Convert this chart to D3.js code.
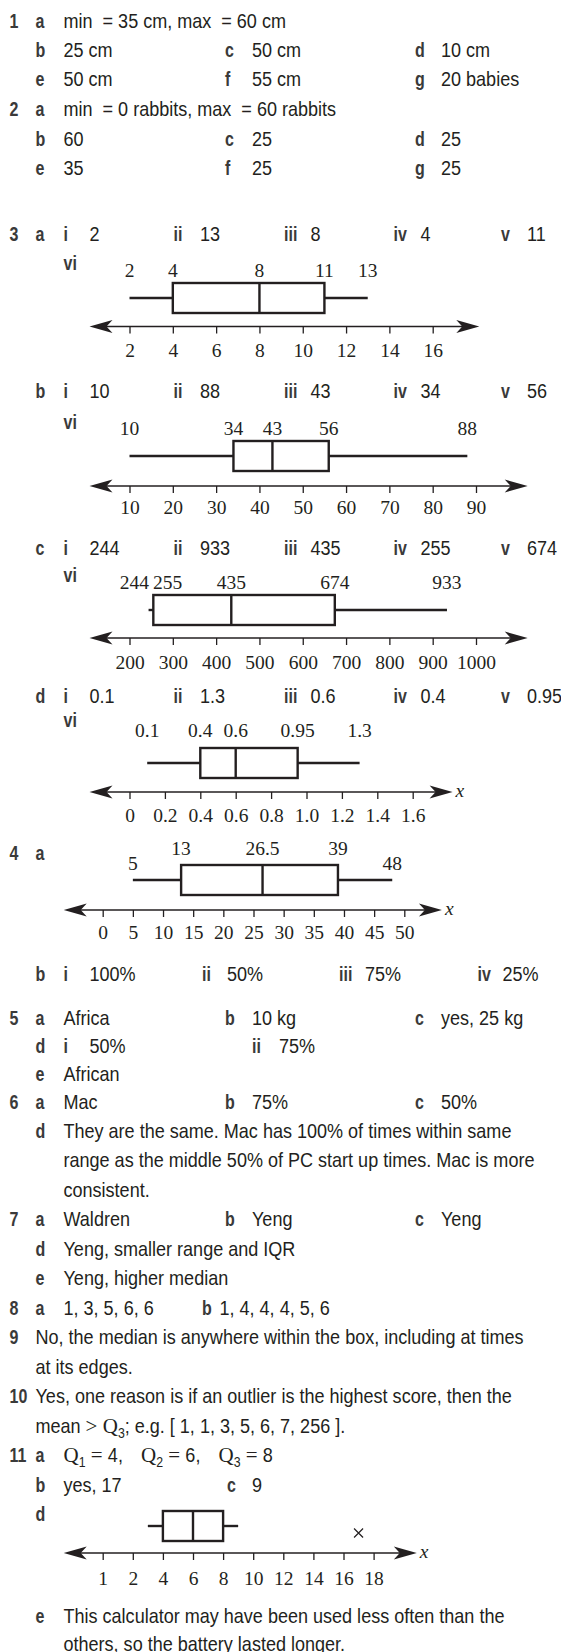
<!DOCTYPE html>
<meta charset="utf-8">
<script src="https://cdn.jsdelivr.net/npm/d3@7/dist/d3.min.js"></script>
<style>
body { margin: 0; background: #fff; }
svg text { fill: #231f20; white-space: pre; }
.t { font-family: "Liberation Sans", Arial, sans-serif; font-size: 20.5px; }
.lb { font-weight: bold; fill: #3a3a3a; font-size: 20px; }
.sf { font-family: "Liberation Serif", "Times New Roman", serif; font-size: 19.5px; }
.bx { stroke: #231f20; stroke-width: 2.4; fill: none; }
</style>
<body>
<script>

// answer text
var romans = ["i", "ii", "iii", "iv", "v", "vi"];
var q1Answers = ["min  = 35 cm, max  = 60 cm", "25 cm", "50 cm", "10 cm", "50 cm", "55 cm", "20 babies"];
var q2Answers = ["min  = 0 rabbits, max  = 60 rabbits", "60", "25", "25", "35", "25", "25"];
var q4bAnswers = ["100%", "50%", "75%", "25%"];
var q5Answers = ["Africa", "10 kg", "yes, 25 kg"];
var q5dAnswers = ["50%", "75%"];
var q5eAnswer = "African";
var q6Answers = ["Mac", "75%", "50%"];
var q6dLines = ["They are the same. Mac has 100% of times within same",
                "range as the middle 50% of PC start up times. Mac is more",
                "consistent."];
var q7Answers = ["Waldren", "Yeng", "Yeng"];
var q7dAnswer = "Yeng, smaller range and IQR";
var q7eAnswer = "Yeng, higher median";
var q8Answers = ["1, 3, 5, 6, 6", "1, 4, 4, 4, 5, 6"];
var q9Lines = ["No, the median is anywhere within the box, including at times", "at its edges."];
var q10Line = "Yes, one reason is if an outlier is the highest score, then the";
var q10Example = "[ 1, 1, 3, 5, 6, 7, 256 ].";
var q11Quartiles = [4, 6, 8];
var q11Answers = ["yes, 17", "9"];
var q11eLines = ["This calculator may have been used less often than the",
                 "others, so the battery lasted longer."];

// five number summaries: min, Q1, median, Q3, max
var summary3a = [2, 4, 8, 11, 13];
var summary3b = [10, 34, 43, 56, 88];
var summary3c = [244, 255, 435, 674, 933];
var summary3d = [0.1, 0.4, 0.6, 0.95, 1.3];
var summary4a = [5, 13, 26.5, 39, 48];
var summary11d = [3, 4, 6, 8, 9];
var outliers11d = [17];

// axis ticks
var ticks3a = [2, 4, 6, 8, 10, 12, 14, 16];
var ticks3b = [10, 20, 30, 40, 50, 60, 70, 80, 90];
var ticks3c = [200, 300, 400, 500, 600, 700, 800, 900, 1000];
var ticks3d = [0, 0.2, 0.4, 0.6, 0.8, 1.0, 1.2, 1.4, 1.6];
var tickLabels3d = ["0", "0.2", "0.4", "0.6", "0.8", "1.0", "1.2", "1.4", "1.6"];
var ticks4a = [0, 5, 10, 15, 20, 25, 30, 35, 40, 45, 50];
var ticks11d = [0, 2, 4, 6, 8, 10, 12, 14, 16, 18];
var tickLabels11d = ["1", "2", "4", "6", "8", "10", "12", "14", "16", "18"];

var ink = "#231f20";
var svg = d3.select("body").append("svg")
    .attr("width", 561)
    .attr("height", 1652);

// the printed font is a condensed grotesque: squeeze Liberation Sans
var SX = 0.88, SXB = 0.8;

// column positions
var NUM = 9.5, PART = 35.5;
var cols3 = [[35.5, 63.5], [225, 252], [415, 441]];
var cols4 = [[63.5, 89.5], [202, 227], [339, 365], [477.5, 502.5]];
var cols5 = [[63.5, 89.5], [173.5, 200], [284, 310.5], [393.5, 420.5], [501, 527]];

function scaleFor(cls) {
  if (cls.indexOf("lb") >= 0) return SXB;
  if (cls.indexOf("sf") >= 0) return 1;
  return SX;
}
function txt(x, y, s, cls) {
  cls = cls || "t";
  return svg.append("text")
    .attr("class", cls)
    .attr("transform", "translate(" + x + "," + y + ") scale(" + scaleFor(cls) + ",1)")
    .text(s);
}
function lab(x, y, s) { return txt(x, y, s, "t lb"); }

// a run of differently styled pieces on one line
function seq(x, y, parts) {
  parts.forEach(function(p) {
    var cls = p.cls || "t";
    var t = txt(x, y + (p.dy || 0), p.s, cls);
    if (p.size) t.style("font-size", p.size + "px");
    x += t.node().getComputedTextLength() * scaleFor(cls);
  });
  return x;
}

// one line of lettered answers
function row(y, items, cols) {
  items.forEach(function(it, i) {
    lab(cols[i][0], y, it[0]);
    txt(cols[i][1], y, it[1]);
  });
}

// ---- questions 1 and 2 ----
lab(NUM, 27.5, "1");
row(27.5, [["a", q1Answers[0]]], cols3);
row(56.5, [["b", q1Answers[1]], ["c", q1Answers[2]], ["d", q1Answers[3]]], cols3);
row(85.5, [["e", q1Answers[4]], ["f", q1Answers[5]], ["g", q1Answers[6]]], cols3);
lab(NUM, 115.5, "2");
row(115.5, [["a", q2Answers[0]]], cols3);
row(145.5, [["b", q2Answers[1]], ["c", q2Answers[2]], ["d", q2Answers[3]]], cols3);
row(174.5, [["e", q2Answers[4]], ["f", q2Answers[5]], ["g", q2Answers[6]]], cols3);

// ---- box plots ----
function arrowHead(g, x, y, dir) {
  // dir = 1 points right, -1 points left
  var L = 23, H = 6.5, B = 17;
  g.append("path")
    .attr("d", "M" + x + "," + y +
               "L" + (x - dir * L) + "," + (y - H) +
               "L" + (x - dir * B) + "," + y +
               "L" + (x - dir * L) + "," + (y + H) + "Z")
    .attr("fill", ink);
}

function boxPlot(cfg) {
  var x = d3.scaleLinear().domain(cfg.domain).range(cfg.range);
  var s = cfg.summary, h = 30, top = cfg.top, mid = top + h / 2;
  var g = svg.append("g");

  // axis with arrows
  g.append("line")
    .attr("x1", cfg.ends[0] + 10).attr("x2", cfg.ends[1] - 10)
    .attr("y1", cfg.axisY).attr("y2", cfg.axisY)
    .attr("stroke", ink).attr("stroke-width", 1.4);
  arrowHead(g, cfg.ends[0], cfg.axisY, -1);
  arrowHead(g, cfg.ends[1], cfg.axisY, 1);
  if (cfg.xName) {
    g.append("text").attr("class", "sf")
      .attr("x", cfg.ends[1] + 3).attr("y", cfg.axisY + 5)
      .style("font-style", "italic")
      .text("x");
  }

  var axis = d3.axisBottom(x)
    .tickValues(cfg.ticks)
    .tickSize(7)
    .tickFormat(function(d, i) { return cfg.tickLabels ? cfg.tickLabels[i] : String(d); });
  var ag = g.append("g")
    .attr("transform", "translate(0," + cfg.axisY + ")")
    .call(axis);
  ag.attr("font-family", null).attr("font-size", null).style("color", ink);
  ag.select(".domain").remove();
  ag.selectAll(".tick line").attr("stroke-width", 1.3);
  ag.selectAll(".tick text")
    .attr("class", "sf")
    .attr("dy", null)
    .attr("y", cfg.tickY - cfg.axisY);

  // whiskers, box, median
  g.append("line").attr("class", "bx")
    .attr("x1", x(s[0])).attr("x2", x(s[1])).attr("y1", mid).attr("y2", mid);
  g.append("line").attr("class", "bx")
    .attr("x1", x(s[3])).attr("x2", x(s[4])).attr("y1", mid).attr("y2", mid);
  g.append("rect").attr("class", "bx")
    .attr("x", x(s[1])).attr("y", top)
    .attr("width", x(s[3]) - x(s[1])).attr("height", h)
    .attr("fill", "#fff");
  g.append("line").attr("class", "bx")
    .attr("x1", x(s[2])).attr("x2", x(s[2])).attr("y1", top).attr("y2", top + h);

  // outliers
  (cfg.outliers || []).forEach(function(v) {
    var cx = x(v), cy = cfg.outlierY, r = 4.5;
    g.append("path")
      .attr("d", "M" + (cx - r) + "," + (cy - r) + "L" + (cx + r) + "," + (cy + r) +
                 "M" + (cx - r) + "," + (cy + r) + "L" + (cx + r) + "," + (cy - r))
      .attr("stroke", ink).attr("stroke-width", 1.2);
  });

  // value labels above the plot
  if (cfg.valueY) {
    var labs = s.map(function(v, i) {
      var y = cfg.valueY;
      if (cfg.stepped && (i === 0 || i === 4)) y = cfg.valueY + 15;
      var t = g.append("text").attr("class", "sf")
        .attr("text-anchor", "middle")
        .attr("y", y)
        .text(String(v));
      return {t: t, cx: x(v), w: t.node().getComputedTextLength(), y: y};
    });
    // push apart labels that would overlap
    for (var i = 1; i < labs.length; i++) {
      var a = labs[i - 1], b = labs[i];
      if (a.y !== b.y) continue;
      var need = (a.w + b.w) / 2 + 4;
      var gap = b.cx - a.cx;
      if (gap < need) {
        var d = (need - gap) / 2;
        a.cx -= d;
        b.cx += d;
      }
    }
    labs.forEach(function(l) { l.t.attr("x", l.cx); });
  }
}

// question 3 headers and plots
var q3 = [
  {part: "a", y: 240.5, summary: summary3a, ticks: ticks3a, domain: [2, 16], range: [129.5, 432.7],
   ends: [89.5, 479.3], top: 283, axisY: 326.5, tickY: 356.5, valueY: 276.5, viY: 270},
  {part: "b", y: 397.5, summary: summary3b, ticks: ticks3b, domain: [10, 90], range: [129.5, 476],
   ends: [89.5, 527.7], top: 441, axisY: 486, tickY: 513.5, valueY: 434.5, viY: 429},
  {part: "c", y: 554.5, summary: summary3c, ticks: ticks3c, domain: [200, 1000], range: [129.5, 476],
   ends: [89.5, 527.7], top: 595, axisY: 638, tickY: 668.5, valueY: 588.5, viY: 582},
  {part: "d", y: 702.5, summary: summary3d, ticks: ticks3d, tickLabels: tickLabels3d, domain: [0, 1.6],
   range: [129.5, 412.7], ends: [89.5, 452.6], xName: true, top: 748, axisY: 792, tickY: 821.5,
   valueY: 736.5, viY: 727}
];

lab(NUM, 240.5, "3");
q3.forEach(function(p) {
  lab(PART, p.y, p.part);
  // i min, ii max, iii median, iv Q1, v Q3
  var order = [0, 4, 2, 1, 3];
  order.forEach(function(k, i) {
    lab(cols5[i][0], p.y, romans[i]);
    txt(cols5[i][1], p.y, String(p.summary[k]));
  });
  lab(cols5[0][0], p.viY, romans[5]);
  boxPlot(p);
});

// question 4
lab(NUM, 859.5, "4");
lab(PART, 859.5, "a");
boxPlot({summary: summary4a, ticks: ticks4a, domain: [0, 50], range: [102.7, 404.3],
         ends: [63.7, 441.9], xName: true, top: 865, axisY: 910, tickY: 938.5,
         valueY: 854.5, stepped: true});
lab(PART, 980.5, "b");
q4bAnswers.forEach(function(v, i) {
  lab(cols4[i][0], 980.5, romans[i]);
  txt(cols4[i][1], 980.5, v);
});

// question 5
lab(NUM, 1024.5, "5");
row(1024.5, [["a", q5Answers[0]], ["b", q5Answers[1]], ["c", q5Answers[2]]], cols3);
lab(PART, 1052.5, "d");
lab(63.5, 1052.5, "i");   txt(89.5, 1052.5, q5dAnswers[0]);
lab(252, 1052.5, "ii");   txt(279, 1052.5, q5dAnswers[1]);
row(1080.5, [["e", q5eAnswer]], cols3);

// question 6
lab(NUM, 1108.5, "6");
row(1108.5, [["a", q6Answers[0]], ["b", q6Answers[1]], ["c", q6Answers[2]]], cols3);
var lh = 29.5;
lab(PART, 1137.5, "d");
q6dLines.forEach(function(s, i) { txt(63.5, 1137.5 + i * lh, s); });

// question 7
var y7 = 1137.5 + 3 * lh;
lab(NUM, y7, "7");
row(y7, [["a", q7Answers[0]], ["b", q7Answers[1]], ["c", q7Answers[2]]], cols3);
row(y7 + lh, [["d", q7dAnswer]], cols3);
row(y7 + 2 * lh, [["e", q7eAnswer]], cols3);

// question 8
var y8 = y7 + 3 * lh;
lab(NUM, y8, "8");
lab(PART, y8, "a"); txt(63.5, y8, q8Answers[0]);
lab(202, y8, "b");  txt(219.5, y8, q8Answers[1]);

// question 9
var y9 = y8 + lh;
lab(NUM, y9, "9");
txt(PART, y9, q9Lines[0]);
txt(PART, y9 + lh, q9Lines[1]);

// question 10
var y10 = y9 + 2 * lh;
lab(NUM, y10, "10");
txt(PART, y10, q10Line);
seq(PART, y10 + lh, [
  {s: "mean "},
  {s: "> Q", cls: "sf", size: 21},
  {s: "3", size: 14, dy: 5},
  {s: "; e.g. " + q10Example}
]);

// question 11
var y11 = y10 + 2 * lh;
lab(NUM, y11, "11");
lab(PART, y11, "a");
q11Quartiles.forEach(function(v, i) {
  seq(63.5 + i * 77.5, y11, [
    {s: "Q", cls: "sf", size: 21},
    {s: String(i + 1), size: 14, dy: 5},
    {s: " = ", cls: "sf", size: 21},
    {s: v + (i < 2 ? "," : "")}
  ]);
});
lab(PART, y11 + lh, "b"); txt(63.5, y11 + lh, q11Answers[0]);
lab(227, y11 + lh, "c");  txt(252, y11 + lh, q11Answers[1]);
lab(PART, 1520.5, "d");
boxPlot({summary: summary11d, outliers: outliers11d, outlierY: 1533, ticks: ticks11d,
         tickLabels: tickLabels11d, domain: [0, 18], range: [102.7, 373.6],
         ends: [63.7, 416.8], xName: true, top: 1511, axisY: 1553, tickY: 1584.5});
row(1622.5, [["e", q11eLines[0]]], cols3);
txt(63.5, 1650.5, q11eLines[1]);

</script>
</body>
</html>
